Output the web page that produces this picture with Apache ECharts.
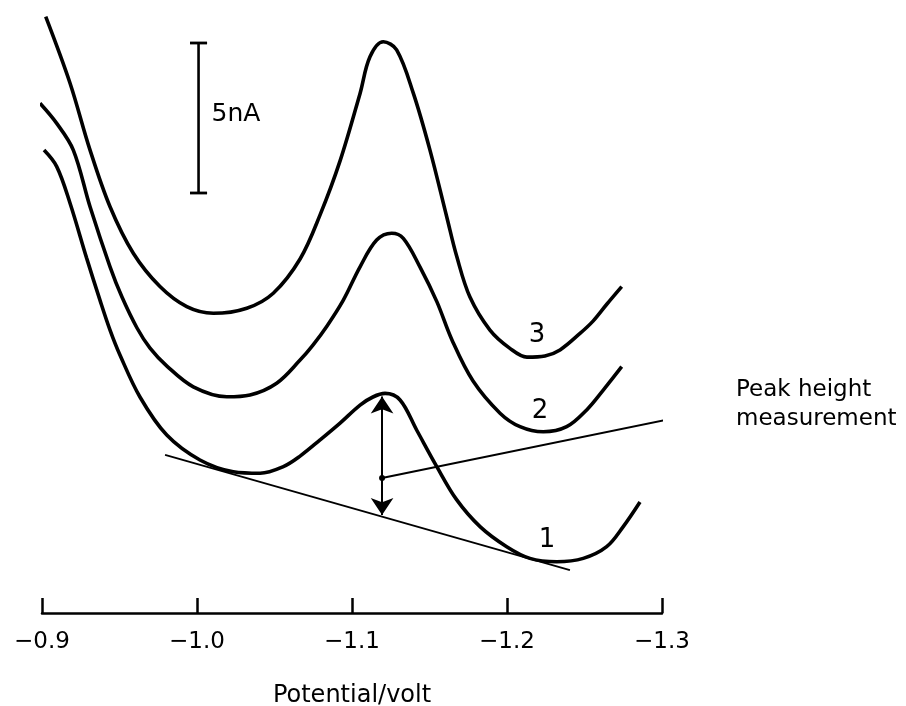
<!DOCTYPE html>
<html>
<head>
<meta charset="utf-8">
<script src="https://cdn.jsdelivr.net/npm/echarts@6/dist/echarts.min.js"></script>
<style>
  html, body { margin: 0; padding: 0; background: #fff; }
  #chart { width: 906px; height: 706px; }
</style>
</head>
<body>
<div id="chart"></div>
<script>
// potential (V) vs current (nA)
const curve1 = [
  [-0.9013, 15.43], [-0.9095, 14.88], [-0.9181, 13.66], [-0.9288, 11.83], [-0.9374, 10.43],
  [-0.9439, 9.43], [-0.9503, 8.60], [-0.9632, 7.20], [-0.9805, 5.93], [-1.0019, 5.10],
  [-1.0234, 4.71], [-1.0407, 4.66], [-1.0557, 4.88], [-1.0665, 5.23], [-1.0794, 5.77],
  [-1.0923, 6.33], [-1.1052, 6.93], [-1.1135, 7.20], [-1.1213, 7.32], [-1.1310, 7.10],
  [-1.1417, 6.10], [-1.1547, 4.88], [-1.1676, 3.77], [-1.1826, 2.88], [-1.1998, 2.21],
  [-1.2148, 1.82], [-1.2321, 1.71], [-1.2492, 1.82], [-1.2643, 2.21], [-1.2750, 2.88],
  [-1.2858, 3.70]
];
const curve2 = [
  [-0.8987, 16.99], [-0.9095, 16.32], [-0.9202, 15.43], [-0.9310, 13.54], [-0.9439, 11.54],
  [-0.9516, 10.53], [-0.9613, 9.50], [-0.9697, 8.83], [-0.9806, 8.23], [-0.9976, 7.54],
  [-1.0192, 7.21], [-1.0342, 7.27], [-1.0514, 7.66], [-1.0665, 8.43], [-1.0748, 8.93],
  [-1.0839, 9.57], [-1.0944, 10.43], [-1.1052, 11.54], [-1.1159, 12.43], [-1.1256, 12.66],
  [-1.1331, 12.49], [-1.1439, 11.53], [-1.1548, 10.37], [-1.1645, 9.10], [-1.1781, 7.73],
  [-1.1955, 6.66], [-1.2084, 6.21], [-1.2234, 6.04], [-1.2385, 6.21], [-1.2514, 6.77],
  [-1.2621, 7.43], [-1.2740, 8.21]
];
const curve3 = [
  [-0.9024, 19.88], [-0.9181, 17.66], [-0.9310, 15.43], [-0.9439, 13.54], [-0.9589, 11.99],
  [-0.9761, 10.88], [-0.9934, 10.21], [-1.0105, 9.99], [-1.0321, 10.16], [-1.0492, 10.66],
  [-1.0665, 11.80], [-1.0794, 13.27], [-1.0923, 15.07], [-1.1052, 17.32], [-1.1116, 18.54],
  [-1.1202, 19.04], [-1.1288, 18.77], [-1.1396, 17.32], [-1.1503, 15.43], [-1.1611, 13.21],
  [-1.1676, 11.88], [-1.1761, 10.53], [-1.1890, 9.43], [-1.2019, 8.82], [-1.2129, 8.53],
  [-1.2245, 8.57], [-1.2342, 8.77], [-1.2471, 9.32], [-1.2555, 9.73], [-1.2645, 10.30],
  [-1.2740, 10.88]
];

const baseline = [[-0.9794, 5.27], [-1.2406, 1.43]];
const peakArrow = [[-1.1194, 7.22], [-1.1194, 3.27]];
const leader = [[-1.1194, 4.5], [-1.3439, 6.87]];
const scaleBar = [[-1.001, 14], [-1.001, 19]];
const scaleCapTop = [[-0.9955, 19], [-1.0065, 19]];
const scaleCapBottom = [[-0.9955, 14], [-1.0065, 14]];

const curveLabels = [[-1.2194, 9.37, "3"], [-1.2213, 6.83, "2"], [-1.2258, 2.53, "1"]];
const scaleLabel = [[-1.001, 16.67, "5nA"]];
const leaderLabel = [[-1.3439, 6.87, "Peak height\nmeasurement"]];

const xTicks = { min: -1.3, max: -0.9, step: 0.1 };

const font = "DejaVu Sans";
const chart = echarts.init(document.getElementById("chart"));

const plainLine = (data, width) => ({
  type: "line",
  data,
  showSymbol: false,
  symbol: "none",
  clip: false,
  silent: true,
  lineStyle: { color: "#000", width },
  z: 3
});

const textPoints = (data, size, pos, extra) => ({
  type: "scatter",
  data,
  symbolSize: 0,
  clip: false,
  silent: true,
  itemStyle: { opacity: 1 },
  label: Object.assign({
    show: true,
    position: pos,
    formatter: (p) => p.data[2],
    color: "#000",
    fontFamily: font,
    fontSize: size
  }, extra || {})
});

chart.setOption({
  backgroundColor: "#fff",
  animation: false,
  grid: { left: 42, right: 244, top: 13, bottom: 93, outerBoundsMode: "none", containLabel: false },
  xAxis: {
    type: "value",
    inverse: true,
    min: xTicks.min,
    max: xTicks.max,
    interval: xTicks.step,
    name: "Potential/volt",
    nameLocation: "middle",
    nameGap: 71,
    nameTextStyle: { color: "#000", fontFamily: font, fontSize: 24 },
    axisLine: { lineStyle: { color: "#000", width: 2.5 } },
    axisTick: { inside: true, length: 15, lineStyle: { color: "#000", width: 2.5 } },
    splitLine: { show: false },
    axisLabel: {
      margin: 18,
      color: "#000",
      fontFamily: font,
      fontSize: 23,
      formatter: (v) => "\u2212" + Math.abs(v).toFixed(1)
    }
  },
  yAxis: {
    type: "value",
    min: 0,
    max: 20,
    show: false
  },
  series: [
    Object.assign(plainLine(curve1, 3.6), { smooth: 0.35 }),
    Object.assign(plainLine(curve2, 3.6), { smooth: 0.35 }),
    Object.assign(plainLine(curve3, 3.6), { smooth: 0.35 }),
    plainLine(baseline, 1.8),
    plainLine(leader, 2),
    plainLine(scaleBar, 2.6),
    plainLine(scaleCapTop, 2.8),
    plainLine(scaleCapBottom, 2.8),
    {
      type: "lines",
      coordinateSystem: "cartesian2d",
      silent: true,
      symbol: ["arrow", "arrow"],
      symbolSize: 17,
      lineStyle: { color: "#000", width: 2, opacity: 1 },
      data: [{ coords: peakArrow }],
      z: 4
    },
    {
      type: "scatter",
      data: [leader[0]],
      symbolSize: 6,
      itemStyle: { color: "#000", opacity: 1 },
      silent: true,
      z: 5
    },
    textPoints(curveLabels, 26, "inside", { offset: [0, 3] }),
    textPoints(scaleLabel, 25, "right", { distance: 13, offset: [0, 2] }),
    textPoints(leaderLabel, 23, "right", { distance: 6, offset: [0, -2], lineHeight: 29, align: "left" })
  ]
});
</script>
</body>
</html>
